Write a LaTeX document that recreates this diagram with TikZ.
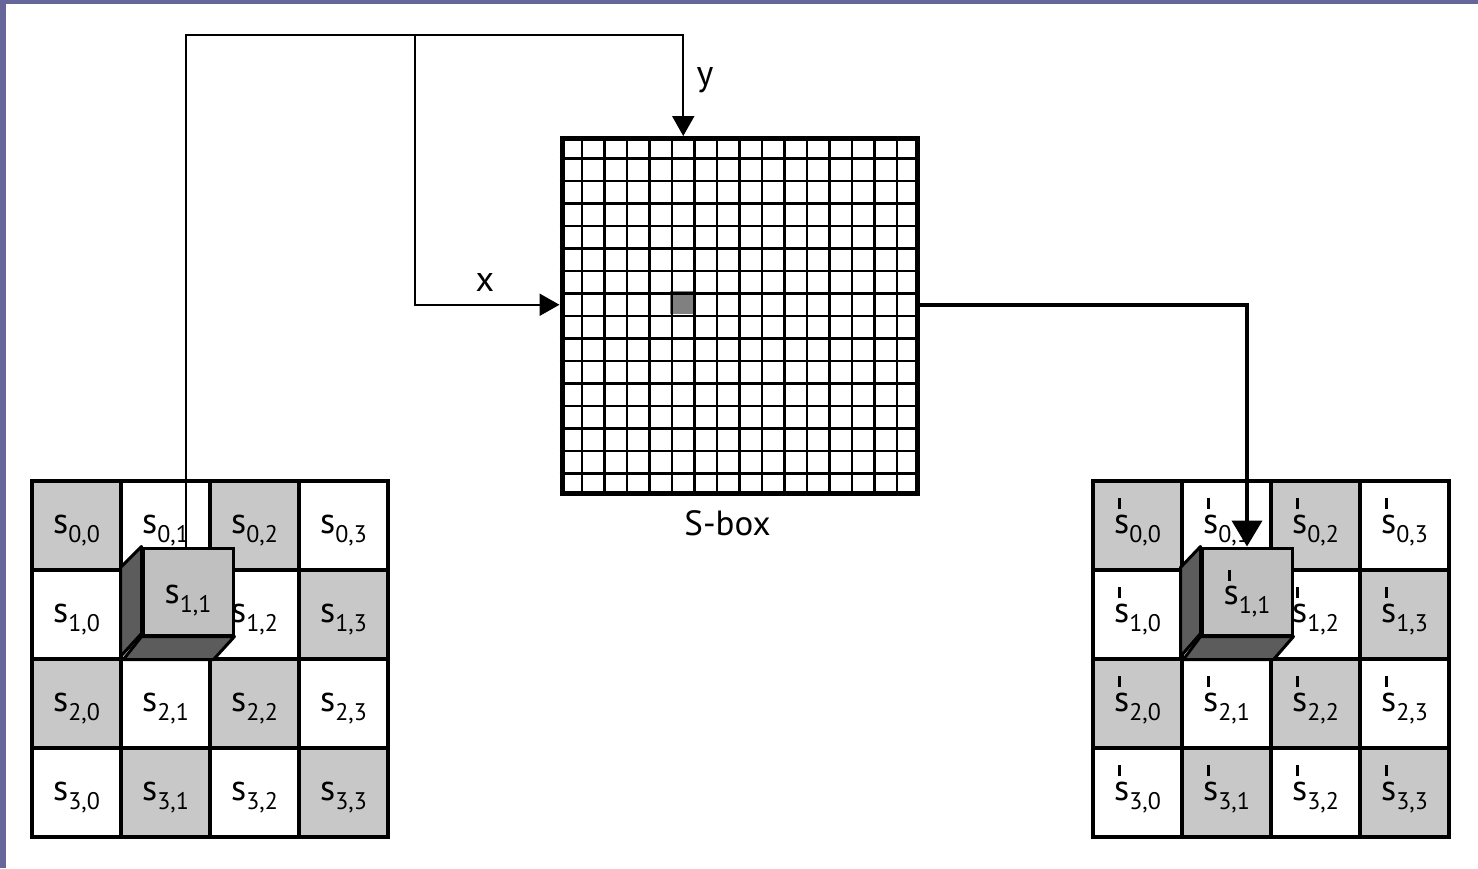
\documentclass[tikz,border=0pt]{standalone}
\usepackage{fontspec}
\setmainfont{PT Sans}
\usetikzlibrary{arrows.meta}
\usetikzlibrary{positioning}
\usetikzlibrary{calc}

\definecolor{framecol}{RGB}{102,102,154}
\definecolor{cellgray}{RGB}{200,200,200}
\definecolor{facegray}{RGB}{192,192,192}
\definecolor{sidegray}{RGB}{92,92,92}
\definecolor{hitgray}{RGB}{128,128,128}

% cell names: s with subscript, and s' with the tick above
\newcommand{\sname}[1]{{\fontsize{36pt}{36pt}\selectfont s\raisebox{-9pt}{\fontsize{24pt}{24pt}\selectfont #1}}}
\newcommand{\snamep}[1]{{\fontsize{36pt}{36pt}\selectfont \makebox[0pt][l]{\hspace{4pt}\raisebox{24pt}{\rule{3pt}{11pt}}}s\raisebox{-9pt}{\fontsize{24pt}{24pt}\selectfont #1}}}

\begin{document}
\begin{tikzpicture}[x=1pt,y=-1pt,>={Triangle[length=20pt,width=22pt]},
		line width=2.2pt]
		\tikzstyle{cellbox}=[draw,line width=4pt,minimum size=89pt,inner sep=0pt]
		\tikzstyle{celltext}=[anchor=base,inner sep=0pt]
		\tikzstyle{cubeface}=[draw,line width=3pt,fill=facegray,minimum width=90pt,minimum height=87pt,inner sep=0pt]
		\tikzstyle{cubeside}=[draw,line width=3pt,fill=sidegray,line join=round]
		\tikzstyle{lbl}=[inner sep=0pt,font=\fontsize{36pt}{36pt}\selectfont]
		
		\useasboundingbox (0,0) rectangle (1478,868);
		\fill[framecol] (0,0) rectangle (1478,868);
		\fill[white] (6,4) rectangle (1478,868);
		
		% state before and after
		\foreach \r in {0,...,3}{
			\foreach \c in {0,...,3}{
				\pgfmathtruncatemacro{\odd}{mod(\r+\c,2)}
				\ifnum\odd=0 \def\cellfill{cellgray}\else\def\cellfill{white}\fi
				\node[cellbox,fill=\cellfill] (in-\r-\c) at ({76.5+89*\c},{525.5+89*\r}) {};
				\node[cellbox,fill=\cellfill] (out-\r-\c) at ({1137.5+89*\c},{525.5+89*\r}) {};
				\ifnum\r\c=11 \else
				\node[celltext] (in-\r-\c-t) at ([yshift=-7.5pt]in-\r-\c.center) {\sname{\r,\c}};
				\node[celltext] (out-\r-\c-t) at ([yshift=-7.5pt]out-\r-\c.center) {\snamep{\r,\c}};
				\fi
			}
		}
		
		% s-box
		\node[draw,line width=5pt,minimum size=355pt,inner sep=0pt,fill=white] (sbox) at (739.5,316) {};
		\fill[hitgray] ($(sbox.north west)+(5*22.19,7*22.19)$) rectangle ++(22.19,22.19);
		\foreach \k in {1,...,15}{
			\draw[line width=2.2pt] ($(sbox.north west)!\k/16!(sbox.north east)$) -- ($(sbox.south west)!\k/16!(sbox.south east)$);
			\draw[line width=2.2pt] ($(sbox.north west)!\k/16!(sbox.south west)$) -- ($(sbox.north east)!\k/16!(sbox.south east)$);
		}
		\node[draw,line width=5pt,minimum size=355pt,inner sep=0pt] (sboxrim) at (sbox.center) {};
		\node[lbl,font=\fontsize{35pt}{35pt}\selectfont,below=13pt of sbox,xshift=-12pt] (sboxlab) {S-box};
		
		\coordinate (ycol) at ($(sbox.north west)!5.5/16!(sbox.north east)$);
		\coordinate (xrow) at ($(sbox.north west)!7.5/16!(sbox.south west)$);
		\coordinate (bus) at (415,35);
		
		% cubes
		\node[cubeface] (incube) at (188,591.5) {};
		\draw[cubeside] (incube.north west) -- ++(-21,21) -- ++(0,89) -- ++(21,-23) -- cycle;
		\draw[cubeside] (incube.south west) -- (incube.south east) -- ++(-21,23) -- ++(-90,0) -- cycle;
		\node[celltext] (incube-t) at ([yshift=-11.5pt]incube.center) {\sname{1,1}};
		
		\node[cubeface] (outcube) at (1247,591.5) {};
		\draw[cubeside] (outcube.north west) -- ++(-20,21) -- ++(0,89) -- ++(20,-23) -- cycle;
		\draw[cubeside] (outcube.south west) -- (outcube.south east) -- ++(-20,23) -- ++(-90,0) -- cycle;
		\node[celltext] (outcube-t) at ([yshift=-13pt]outcube.center) {\snamep{1,1}};
		
		% connectors
		\draw ([xshift=-2pt]incube.north) |- (bus);
		\draw[->] (bus) -| (ycol);
		\draw[->] (bus) |- (xrow);
		\draw[line width=4pt,-{Triangle[length=26pt,width=30pt]}] (xrow -| sbox.east) -| (outcube.north);
		
		\node[lbl] (ylab) at (705,80.5) {y};
		\node[lbl] (xlab) at (485,282) {x};
		
\end{tikzpicture}
\end{document}
